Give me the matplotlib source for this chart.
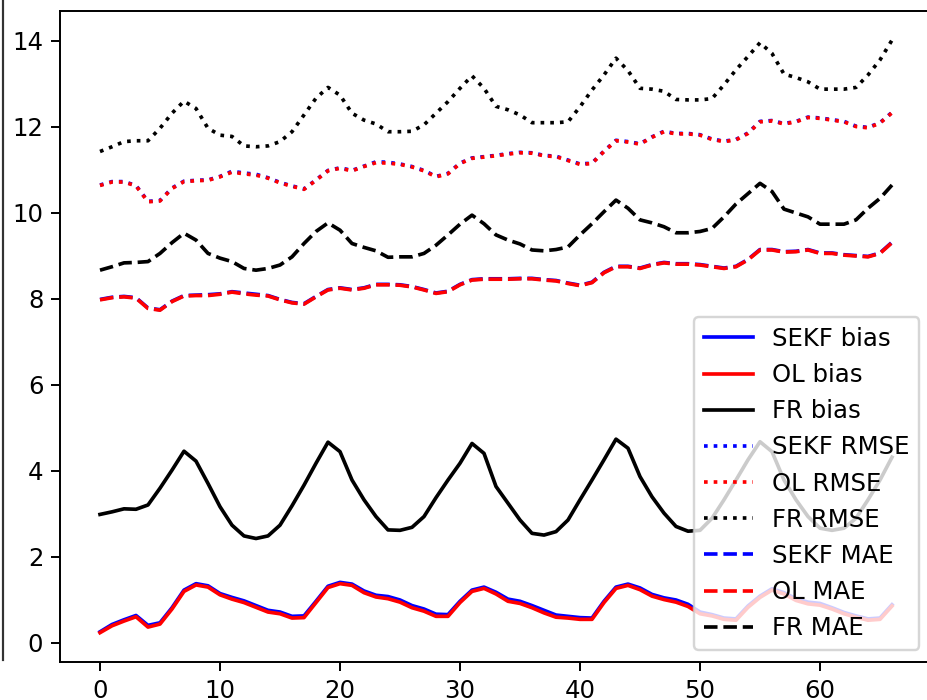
import numpy as np
import matplotlib
matplotlib.use("Agg")
import matplotlib.pyplot as plt
from matplotlib.lines import Line2D

steps = list(range(67))

sekf_bias = [0.26,0.43,0.54,0.64,0.41,0.47,0.82,1.23,1.38,1.33,
             1.15,1.06,0.98,0.87,0.76,0.72,0.62,0.63,0.97,1.32,
             1.41,1.37,1.21,1.11,1.08,1.00,0.87,0.79,0.67,0.66,
             0.97,1.23,1.30,1.18,1.02,0.97,0.87,0.76,0.65,0.62,
             0.59,0.58,0.97,1.30,1.37,1.28,1.13,1.05,1.00,0.90,
             0.72,0.66,0.58,0.56,0.86,1.09,1.26,1.17,1.03,0.95,
             0.92,0.82,0.71,0.63,0.56,0.58,0.89]
ol_bias = [0.24,0.40,0.51,0.61,0.37,0.44,0.79,1.20,1.35,1.30,
           1.12,1.02,0.94,0.83,0.72,0.68,0.58,0.59,0.94,1.29,
           1.38,1.34,1.17,1.07,1.03,0.95,0.82,0.74,0.62,0.62,
           0.94,1.20,1.27,1.14,0.97,0.92,0.82,0.70,0.60,0.58,
           0.55,0.55,0.94,1.27,1.34,1.24,1.09,1.01,0.95,0.85,
           0.68,0.63,0.55,0.53,0.83,1.06,1.23,1.14,0.99,0.91,
           0.88,0.79,0.68,0.60,0.53,0.55,0.86]
fr_bias = [2.99,3.05,3.12,3.11,3.21,3.60,4.02,4.46,4.23,3.71,
           3.17,2.74,2.49,2.43,2.49,2.74,3.19,3.67,4.18,4.67,
           4.45,3.79,3.33,2.94,2.63,2.62,2.69,2.94,3.38,3.79,
           4.18,4.64,4.41,3.64,3.25,2.86,2.55,2.51,2.59,2.86,
           3.33,3.79,4.26,4.74,4.53,3.87,3.40,3.02,2.71,2.60,
           2.62,2.90,3.33,3.79,4.26,4.68,4.45,3.79,3.33,2.94,
           2.67,2.62,2.67,2.90,3.33,3.79,4.32]

sekf_rmse = [10.65,10.73,10.73,10.64,10.27,10.29,10.58,10.74,10.76,10.77,
             10.85,10.97,10.93,10.90,10.82,10.71,10.63,10.56,10.77,10.99,
             11.05,10.99,11.09,11.19,11.18,11.14,11.08,10.99,10.85,10.92,
             11.16,11.28,11.31,11.34,11.38,11.41,11.40,11.34,11.32,11.23,
             11.14,11.16,11.44,11.69,11.66,11.61,11.77,11.90,11.85,11.85,
             11.82,11.72,11.67,11.71,11.86,12.13,12.15,12.08,12.13,12.23,
             12.21,12.17,12.13,12.02,11.99,12.10,12.34]
ol_rmse = [10.64,10.72,10.72,10.63,10.26,10.28,10.57,10.73,10.75,10.76,
           10.84,10.95,10.91,10.88,10.81,10.70,10.62,10.55,10.76,10.98,
           11.04,10.98,11.08,11.17,11.16,11.13,11.07,10.98,10.84,10.91,
           11.15,11.27,11.30,11.33,11.37,11.40,11.39,11.33,11.31,11.22,
           11.13,11.15,11.43,11.68,11.65,11.60,11.76,11.89,11.84,11.84,
           11.81,11.71,11.66,11.70,11.85,12.12,12.14,12.07,12.12,12.22,
           12.20,12.16,12.12,12.01,11.98,12.09,12.33]
fr_rmse = [11.43,11.54,11.66,11.68,11.68,11.97,12.32,12.60,12.43,11.97,
           11.81,11.78,11.56,11.54,11.56,11.66,11.89,12.28,12.67,12.92,
           12.74,12.32,12.16,12.07,11.89,11.89,11.90,12.05,12.32,12.59,
           12.90,13.19,12.90,12.48,12.40,12.28,12.10,12.10,12.10,12.12,
           12.47,12.86,13.21,13.60,13.31,12.90,12.88,12.83,12.64,12.63,
           12.63,12.66,12.98,13.33,13.64,13.96,13.71,13.23,13.15,13.05,
           12.88,12.88,12.88,12.92,13.21,13.56,14.02]

sekf_mae = [7.99,8.04,8.06,8.03,7.79,7.75,7.95,8.08,8.09,8.10,
            8.12,8.17,8.14,8.11,8.08,7.99,7.92,7.89,8.06,8.22,
            8.26,8.22,8.26,8.34,8.34,8.33,8.29,8.22,8.14,8.18,
            8.34,8.45,8.47,8.47,8.47,8.48,8.48,8.45,8.43,8.37,
            8.32,8.39,8.62,8.76,8.76,8.72,8.80,8.85,8.82,8.82,
            8.80,8.76,8.72,8.76,8.92,9.15,9.15,9.10,9.11,9.15,
            9.07,9.07,9.03,9.01,8.99,9.07,9.32]
ol_mae = [7.98,8.03,8.05,8.02,7.78,7.74,7.94,8.07,8.08,8.08,
          8.11,8.16,8.12,8.09,8.07,7.98,7.91,7.88,8.05,8.21,
          8.25,8.21,8.25,8.33,8.33,8.32,8.28,8.21,8.13,8.17,
          8.33,8.44,8.46,8.46,8.46,8.47,8.47,8.44,8.42,8.36,
          8.31,8.38,8.61,8.75,8.75,8.71,8.79,8.84,8.81,8.81,
          8.79,8.75,8.71,8.75,8.91,9.14,9.14,9.09,9.10,9.14,
          9.06,9.06,9.02,9.00,8.98,9.06,9.31]
fr_mae = [8.67,8.75,8.84,8.85,8.87,9.06,9.31,9.53,9.37,9.06,
          8.95,8.87,8.71,8.67,8.71,8.79,8.98,9.29,9.57,9.77,
          9.60,9.29,9.20,9.12,8.97,8.98,8.98,9.06,9.25,9.49,
          9.74,9.95,9.75,9.49,9.37,9.28,9.14,9.12,9.15,9.21,
          9.49,9.75,10.03,10.30,10.11,9.84,9.77,9.68,9.54,9.54,
          9.57,9.64,9.91,10.21,10.45,10.69,10.50,10.09,10.00,9.91,
          9.74,9.74,9.74,9.84,10.11,10.34,10.65]

DPI = 175.5
fig = plt.figure(figsize=(927 / DPI, 700 / DPI), dpi=DPI)
ax = fig.add_axes([60.4 / 927, 37.7 / 700, 871.2 / 927, 651.8 / 700])

ax.plot(steps, sekf_bias, 'b-', label='SEKF bias')
ax.plot(steps, ol_bias, 'r-', label='OL bias')
ax.plot(steps, fr_bias, 'k-', label='FR bias')
ax.plot(steps, sekf_rmse, 'b:', label='SEKF RMSE')
ax.plot(steps, ol_rmse, 'r:', label='OL RMSE')
ax.plot(steps, fr_rmse, 'k:', label='FR RMSE')
ax.plot(steps, sekf_mae, 'b--', label='SEKF MAE')
ax.plot(steps, ol_mae, 'r--', label='OL MAE')
ax.plot(steps, fr_mae, 'k--', label='FR MAE')

ax.legend(loc='lower right')

fig.add_artist(Line2D([3 / 927, 3 / 927], [40 / 700, 1.0], transform=fig.transFigure,
                      color='#333333', linewidth=0.9))

fig.savefig('out.png', dpi=DPI)
